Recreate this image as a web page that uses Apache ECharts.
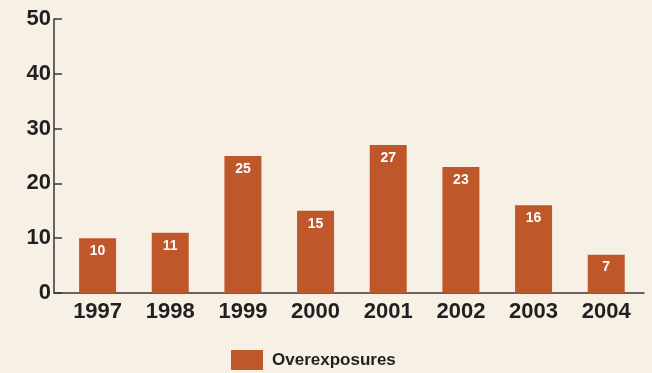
<!DOCTYPE html>
<html>
<head>
<meta charset="utf-8">
<script src="https://cdn.jsdelivr.net/npm/echarts@6/dist/echarts.min.js"></script>
<style>
  html, body { margin: 0; padding: 0; background: #f6f0e5; }
  #chart { width: 652px; height: 373px; }
</style>
</head>
<body>
<div id="chart"></div>
<script>
// Yearly overexposure counts
const years = ['1997', '1998', '1999', '2000', '2001', '2002', '2003', '2004'];
const overexposures = [10, 11, 25, 15, 27, 23, 16, 7];
const yTicks = [0, 10, 20, 30, 40, 50];

const FONT = '"Liberation Sans Narrow", "Liberation Sans", Arial, sans-serif';
const INK = '#231f20';
const BAR = '#c0572a';
const AXIS = '#3a3537';

const positions = years.map((_, i) => i);

const chart = echarts.init(document.getElementById('chart'), null, { renderer: 'canvas' });
chart.setOption({
  backgroundColor: '#f6f0e5',
  animation: false,
  grid: { left: 54, right: 8, top: 19, bottom: 80, containLabel: false },
  legend: {
    top: 350,
    left: 231,
    padding: 0,
    itemWidth: 32,
    itemHeight: 20,
    icon: 'rect',
    textStyle: { fontFamily: FONT, fontSize: 17, fontWeight: 'bold', color: INK, padding: [1, 0, 0, 4] },
    data: ['Overexposures']
  },
  xAxis: {
    type: 'value',
    min: -0.6,
    max: 7.52,
    splitLine: { show: false },
    axisLine: { show: true, onZero: false, lineStyle: { color: AXIS, width: 1.5 } },
    axisTick: { show: false },
    axisLabel: {
      customValues: positions,
      formatter: v => years[Math.round(v)] || '',
      fontFamily: FONT,
      fontSize: 22,
      fontWeight: 'bold',
      color: INK,
      margin: 8
    }
  },
  yAxis: {
    type: 'value',
    min: 0,
    max: 50,
    interval: 10,
    splitLine: { show: false },
    axisLine: { show: true, onZero: false, lineStyle: { color: AXIS, width: 1.5 } },
    axisTick: { show: true, inside: true, length: 8, lineStyle: { color: AXIS, width: 1.5 } },
    axisLabel: {
      customValues: yTicks,
      fontFamily: FONT,
      fontSize: 22,
      fontWeight: 'bold',
      color: INK,
      margin: 3
    }
  },
  series: [{
    name: 'Overexposures',
    type: 'bar',
    barWidth: 37,
    itemStyle: { color: BAR },
    label: {
      show: true,
      position: 'insideTop',
      distance: 6,
      color: '#ffffff',
      fontFamily: FONT,
      fontSize: 14,
      fontWeight: 'bold'
    },
    data: overexposures.map((v, i) => [positions[i], v])
  }]
});
</script>
</body>
</html>
